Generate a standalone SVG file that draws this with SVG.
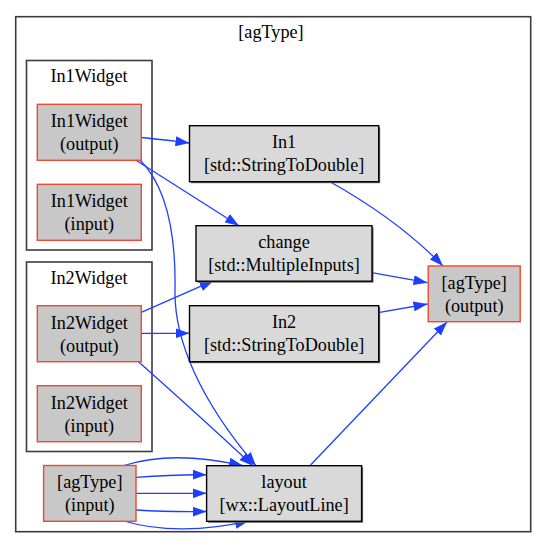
<svg xmlns="http://www.w3.org/2000/svg" width="547" height="559" viewBox="0 0 547 559">
<defs>
<style>
text{font-family:'Liberation Serif','DejaVu Serif',serif;font-size:18.2px;fill:#000;text-anchor:middle}
.cl{fill:#fff;stroke:#3c3c3c;stroke-width:1.6}
.sh{fill:#666}
.w{fill:#c8c8c8;stroke:#ee4a2e;stroke-width:1.4}
.p{fill:#d9d9d9;stroke:#000;stroke-width:1.4}
.e{fill:none;stroke:#1e3fff;stroke-width:1.3;marker-end:url(#a)}
</style>
<marker id="a" viewBox="0 0 14 10" refX="14" refY="5" markerWidth="14" markerHeight="10" markerUnits="userSpaceOnUse" orient="auto">
<path d="M0,0 L14,5 L0,10 z" fill="#1e3fff"/>
</marker>
</defs>
<rect width="547" height="559" fill="#fff"/>
<g id="cluster_agType">
<rect class="cl" x="15.7" y="16.7" width="515" height="515"/>
<text x="271" y="38">[agType]</text>
</g>
<g id="cluster_In1Widget">
<rect class="cl" x="26.5" y="60.5" width="125.5" height="189.5"/>
<text x="89" y="82">In1Widget</text>
</g>
<g id="cluster_In2Widget">
<rect class="cl" x="26.5" y="262" width="125.5" height="189.5"/>
<text x="89" y="284">In2Widget</text>
</g>
<g id="connectors">
<path class="e" d="M141.5,137.5 C158,139 173,141 189.5,143"/>
<path class="e" d="M136,160.3 L239,225.7"/>
<path class="e" d="M140,160 C165,185 176,230 175,290 C174,340 200,400 256,466"/>
<path class="e" d="M141.3,312.3 L213.6,280.7"/>
<path class="e" d="M141.3,333.3 L189.5,333.3"/>
<path class="e" d="M138,361.3 C170,390 215,430 253,466"/>
<path class="e" d="M330,181.7 C368,203 410,232 443,266"/>
<path class="e" d="M371.7,272.7 L427.5,282.7"/>
<path class="e" d="M378.3,312.7 L427.5,304"/>
<path class="e" d="M310.6,465 L447,322"/>
<path class="e" d="M124,465.5 C160,454 200,456 243,465.7"/>
<path class="e" d="M136,477.3 C160,475.5 185,474.5 206.6,474.8"/>
<path class="e" d="M136,493.3 L206.6,493.3"/>
<path class="e" d="M136,510 C160,511.5 185,511.8 206.6,511.5"/>
<path class="e" d="M124,521 C160,532 205,531 249,520.8"/>
</g>
<g id="In1Widget_output">
<rect class="w" x="37.3" y="104.3" width="104" height="56"/>
<text x="89.3" y="127">In1Widget</text>
<text x="89.3" y="150">(output)</text>
</g>
<g id="In1Widget_input">
<rect class="w" x="37.3" y="184.3" width="104" height="56"/>
<text x="89.3" y="207">In1Widget</text>
<text x="89.3" y="230">(input)</text>
</g>
<g id="In2Widget_output">
<rect class="w" x="37.3" y="305.7" width="104" height="56"/>
<text x="89.3" y="328.5">In2Widget</text>
<text x="89.3" y="351.5">(output)</text>
</g>
<g id="In2Widget_input">
<rect class="w" x="37.3" y="385.7" width="104" height="56"/>
<text x="89.3" y="408.5">In2Widget</text>
<text x="89.3" y="431.5">(input)</text>
</g>
<g id="agType_input">
<rect class="w" x="43.6" y="465.5" width="92.4" height="55.8"/>
<text x="89.8" y="488">[agType]</text>
<text x="89.8" y="511">(input)</text>
</g>
<g id="In1">
<rect class="sh" x="191" y="127.2" width="189.2" height="56"/>
<rect class="p" x="189.5" y="125.7" width="189.2" height="56"/>
<text x="284.1" y="148">In1</text>
<text x="284.1" y="171">[std::StringToDouble]</text>
</g>
<g id="change">
<rect class="sh" x="197.5" y="227.2" width="176" height="55.5"/>
<rect class="p" x="196" y="225.7" width="176" height="55.5"/>
<text x="284" y="248">change</text>
<text x="284" y="271">[std::MultipleInputs]</text>
</g>
<g id="In2">
<rect class="sh" x="191" y="307.2" width="189.2" height="56"/>
<rect class="p" x="189.5" y="305.7" width="189.2" height="56"/>
<text x="284.1" y="328">In2</text>
<text x="284.1" y="351">[std::StringToDouble]</text>
</g>
<g id="layout">
<rect class="sh" x="208.1" y="467.2" width="155" height="55.6"/>
<rect class="p" x="206.6" y="465.7" width="155" height="55.6"/>
<text x="284.1" y="488">layout</text>
<text x="284.1" y="511">[wx::LayoutLine]</text>
</g>
<g id="agType_output">
<rect class="w" x="428.2" y="266" width="92" height="55.7"/>
<text x="474.2" y="288.5">[agType]</text>
<text x="474.2" y="311.5">(output)</text>
</g>
</svg>
